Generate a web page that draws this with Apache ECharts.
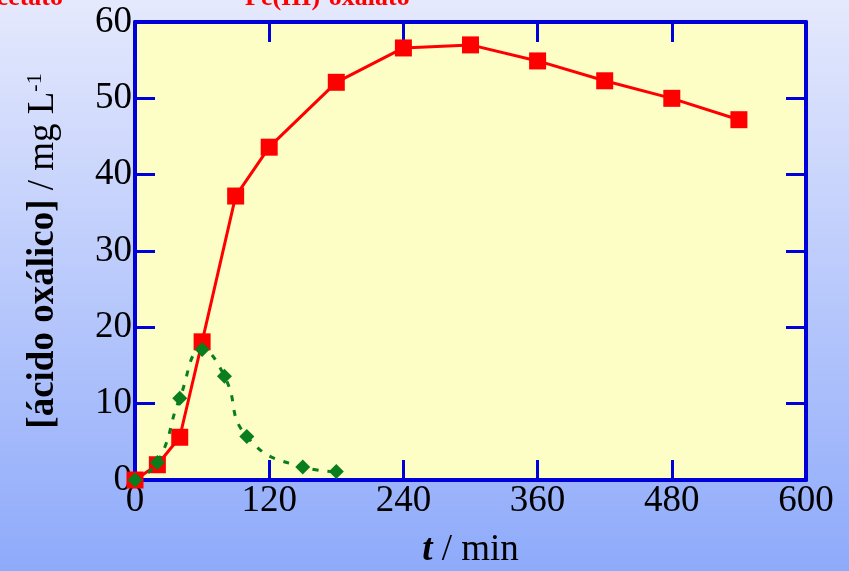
<!DOCTYPE html>
<html><head><meta charset="utf-8">
<script src="https://cdn.jsdelivr.net/npm/echarts@6/dist/echarts.min.js"></script>
<style>html,body{margin:0;padding:0;}#c{width:849px;height:571px;}</style>
</head><body><div id="c"></div>
<script>
const xTicks = [0, 120, 240, 360, 480, 600];
const yTicks = [0, 10, 20, 30, 40, 50, 60];
const redTimes = [0, 20, 40, 60, 90, 120, 180, 240, 300, 360, 420, 480, 540];
const redValues = [0, 2.0, 5.6, 18.1, 37.2, 43.6, 52.1, 56.6, 57.0, 54.9, 52.3, 50.0, 47.2];
const greenTimes = [0, 20, 40, 60, 80, 100, 150, 180];
const greenValues = [0, 2.3, 10.7, 17.1, 13.6, 5.7, 1.7, 1.1];
const labelA = 'Fe(III)-acetato';
const labelB = 'Fe(III)-oxalato';

const redData = redTimes.map((t, i) => [t, redValues[i]]);
const greenData = greenTimes.map((t, i) => [t, greenValues[i]]);
const serif = 'Liberation Serif';
const blue = '#0000d8';
const FS = 37;

const chart = echarts.init(document.getElementById('c'));
const axisCommon = {
  min: 0,
  axisLine: { show: true, onZero: false, lineStyle: { color: blue, width: 4 } },
  axisTick: { show: true, inside: true, length: 20, lineStyle: { color: blue, width: 3 } },
  splitLine: { show: false }
};
chart.setOption({
  backgroundColor: new echarts.graphic.LinearGradient(0, 0, 0, 1, [
    { offset: 0, color: '#e5e9fd' }, { offset: 1, color: '#8eaafa' }
  ]),
  animation: false,
  grid: { left: 135, right: 43, top: 22, bottom: 91, show: true, backgroundColor: '#fdfdc6', borderWidth: 0,
          containLabel: false, outerBoundsMode: 'none' },
  graphic: [
    { type: 'text', x: 63, y: 11, style: { text: labelA, fill: '#ff0000', font: 'bold 26px "Liberation Serif"', textAlign: 'right', textVerticalAlign: 'bottom' } },
    { type: 'text', x: 245, y: 11, style: { text: labelB, fill: '#ff0000', font: 'bold 26px "Liberation Serif"', textAlign: 'left', textVerticalAlign: 'bottom' } }
  ],
  xAxis: [
    Object.assign({}, axisCommon, {
      type: 'value', position: 'bottom', max: 600, interval: 120,
      axisLabel: { color: '#000', fontFamily: serif, fontSize: FS, margin: 3 },
      name: '{t|t}{n| / min}', nameLocation: 'middle', nameGap: 52,
      nameTextStyle: { rich: {
        t: { fontFamily: serif, fontSize: FS, fontWeight: 'bold', fontStyle: 'italic', color: '#000' },
        n: { fontFamily: serif, fontSize: FS, color: '#000' } } }
    }),
    Object.assign({}, axisCommon, {
      type: 'value', position: 'top', max: 600, interval: 120,
      axisLabel: { show: false }
    })
  ],
  yAxis: [
    Object.assign({}, axisCommon, {
      type: 'value', position: 'left', max: 60, interval: 10,
      axisLabel: { color: '#000', fontFamily: serif, fontSize: FS, margin: 3 },
      name: '{b|[ácido oxálico]}{n| / mg L}{s|-1}', nameLocation: 'middle', nameGap: 73, nameRotate: 90,
      nameTextStyle: { rich: {
        b: { fontFamily: serif, fontSize: FS, fontWeight: 'bold', color: '#000' },
        n: { fontFamily: serif, fontSize: FS, color: '#000' },
        s: { fontFamily: serif, fontSize: 22, color: '#000', verticalAlign: 'top', padding: [0, 0, 16, 0] } } }
    }),
    Object.assign({}, axisCommon, {
      type: 'value', position: 'right', max: 60, interval: 10,
      axisLabel: { show: false }
    })
  ],
  series: [
    { type: 'line', data: redData, xAxisIndex: 0, yAxisIndex: 0,
      symbol: 'rect', symbolSize: 17, itemStyle: { color: '#ff0000' },
      lineStyle: { color: '#ff0000', width: 3 }, z: 3 },
    { type: 'line', data: greenData, xAxisIndex: 0, yAxisIndex: 0, smooth: 0.5,
      symbol: 'diamond', symbolSize: 15, itemStyle: { color: '#0a7d1c' },
      lineStyle: { color: '#0a7d1c', width: 3, type: [6, 9] }, z: 4 }
  ]
});
</script></body></html>
